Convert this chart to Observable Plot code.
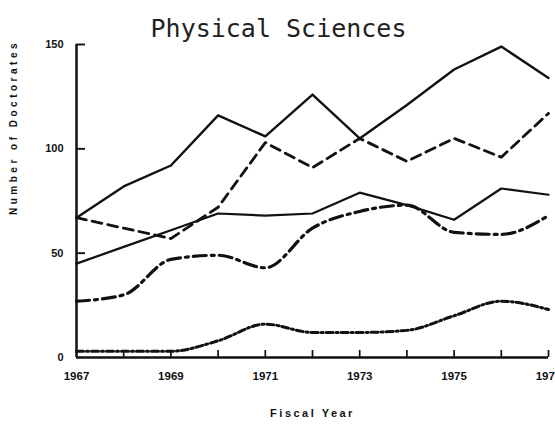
<!DOCTYPE html>
<html><head><meta charset="utf-8">
<script src="https://cdn.jsdelivr.net/npm/d3@7"></script>
<script src="https://cdn.jsdelivr.net/npm/@observablehq/plot@0.6"></script>
<style>
body{margin:0;background:#fff}
#chart svg{display:block}
</style>
</head><body><div id="chart"></div>
<script>
const years = [1967, 1968, 1969, 1970, 1971, 1972, 1973, 1974, 1975, 1976, 1977];
const seriesA = [67, 82, 92, 116, 106, 126, 105, 121, 138, 149, 134];
const seriesB = [67, 62, 57, 72, 103, 91, 105, 94, 105, 96, 117];
const seriesC = [45, 53, 61, 69, 68, 69, 79, 73, 66, 81, 78];
const seriesD = [27, 30, 47, 49, 43, 62, 70, 73, 60, 59, 68];
const seriesE = [3, 3, 3, 8, 16, 12, 12, 13, 20, 27, 23];
const yTicks = [0, 50, 100, 150];
const yInnerTicks = [50, 100, 150];
const xLabelYears = [1967, 1969, 1971, 1973, 1975, 1977];
const titleText = "Physical Sciences";
const yLabel = "Number of Doctorates";
const xLabel = "Fiscal Year";

const W = 555, H = 429, mL = 76, mR = 7, mT = 44, mB = 72;
const xDom = [1967, 1977], yDom = [0, 150];
// tick lengths in pixels, converted to data units for the rule marks
const yPerPx = (yDom[1] - yDom[0]) / (H - mT - mB);
const xPerPx = (xDom[1] - xDom[0]) / (W - mL - mR);
const xTickLen = 7 * yPerPx, yTickLen = 9 * xPerPx;

const rows = s => years.map((y, i) => ({year: y, value: s[i]}));
const ink = "#111";
const lab = "Liberation Sans, Arial, sans-serif";

const chart = Plot.plot({
  width: W,
  height: H,
  marginLeft: mL,
  marginRight: mR,
  marginTop: mT,
  marginBottom: mB,
  style: {background: "#fff"},
  x: {domain: xDom, label: null},
  y: {domain: yDom, label: null},
  marks: [
    Plot.axisX({ticks: xLabelYears, tickSize: 0, tickPadding: 14, tickFormat: d => String(d), fontSize: 11.5, fontWeight: "bold", fontFamily: lab, fill: ink, label: null}),
    Plot.axisY({ticks: yTicks, tickSize: 0, tickPadding: 13, fontSize: 11, fontWeight: "bold", fontFamily: lab, fill: ink, label: null}),
    Plot.ruleX(years.slice(1), {x: d => d, y1: () => yDom[0], y2: () => yDom[0] + xTickLen, stroke: ink, strokeWidth: 1.7}),
    Plot.ruleY(yInnerTicks, {y: d => d, x1: () => xDom[0], x2: () => xDom[0] + yTickLen, stroke: ink, strokeWidth: 1.9}),
    Plot.ruleY([0], {stroke: ink, strokeWidth: 2.5}),
    Plot.ruleX([1967], {stroke: ink, strokeWidth: 2.5}),
    Plot.line(rows(seriesE), {x: "year", y: "value", stroke: ink, strokeWidth: 3, strokeDasharray: "7,3,2,3", curve: "monotone-x"}),
    Plot.line(rows(seriesD), {x: "year", y: "value", stroke: ink, strokeWidth: 3.2, strokeDasharray: "13,5,3,5", curve: "monotone-x"}),
    Plot.line(rows(seriesC), {x: "year", y: "value", stroke: ink, strokeWidth: 2.2}),
    Plot.line(rows(seriesB), {x: "year", y: "value", stroke: ink, strokeWidth: 2.8, strokeDasharray: "10,6"}),
    Plot.line(rows(seriesA), {x: "year", y: "value", stroke: ink, strokeWidth: 2.4}),
    Plot.text([titleText], {frameAnchor: "top", dx: -34, dy: -8, lineAnchor: "bottom", fontSize: 25, fontFamily: "DejaVu Sans Mono, monospace", fill: "#222", text: d => d}),
    Plot.text([yLabel], {frameAnchor: "left", dx: -63, dy: 14, rotate: -90, fontSize: 10, fontWeight: "bold", fontFamily: lab, fill: ink, text: d => d}),
    Plot.text([xLabel], {frameAnchor: "bottom", dy: 56, lineAnchor: "middle", fontSize: 11, fontWeight: "bold", fontFamily: lab, fill: ink, text: d => d})
  ]
});
chart.querySelectorAll("text").forEach(t => { if (t.textContent === yLabel) t.style.letterSpacing = "3.5px"; if (t.textContent === xLabel) t.style.letterSpacing = "2.5px"; });
document.getElementById("chart").appendChild(chart);
</script>
</body></html>
